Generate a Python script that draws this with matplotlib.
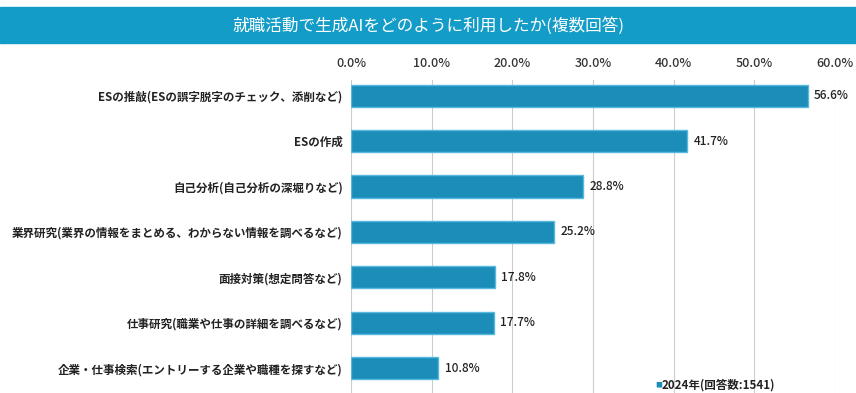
import numpy as np
import matplotlib
matplotlib.use('Agg')
from matplotlib import pyplot as plt
from matplotlib.patches import Rectangle

plt.rcParams['font.family'] = ['Noto Sans CJK JP', 'DejaVu Sans']

title = '就職活動で生成AIをどのように利用したか(複数回答)'
categories = [
    'ESの推敲(ESの誤字脱字のチェック、添削など)',
    'ESの作成',
    '自己分析(自己分析の深堀りなど)',
    '業界研究(業界の情報をまとめる、わからない情報を調べるなど)',
    '面接対策(想定問答など)',
    '仕事研究(職業や仕事の詳細を調べるなど)',
    '企業・仕事検索(エントリーする企業や職種を探すなど)',
]
values = [56.6, 41.7, 28.8, 25.2, 17.8, 17.7, 10.8]
ticks = [0, 10, 20, 30, 40, 50, 60]
legend_label = '2024年(回答数:1541)'

bar_color = '#1b8db8'
edge_color = '#58b9dc'
banner_color = '#139cc7'

fig = plt.figure(figsize=(8.56, 3.93), dpi=100)

# title banner across the top
fig.patches.append(Rectangle((0, 1 - 43 / 393), 1, 36 / 393, transform=fig.transFigure,
                             color=banner_color, zorder=0))
fig.text(0.5, 1 - 25.5 / 393, title, ha='center', va='center', color='white', fontsize=12)

ax = fig.add_axes([351 / 856, 0, (835 - 351) / 856, 1 - 80 / 393])
y = np.arange(len(categories))
ax.barh(y, values, height=0.49, color=bar_color, edgecolor=edge_color, linewidth=1.0, zorder=3)

for yi, v in zip(y, values):
    ax.text(v + 0.8, yi, f'{v:.1f}%', va='center', ha='left', fontsize=8.5, fontweight='medium',
            color='#222222')

ax.set_xlim(0, 60)
ax.set_ylim(6.55, -0.35)
ax.set_xticks(ticks)
ax.set_xticklabels([f'{t:.1f}%' for t in ticks], fontsize=9, fontweight='medium', color='#333333')
ax.xaxis.tick_top()
ax.tick_params(axis='x', length=0, pad=7)
ax.set_yticks(y)
ax.set_yticklabels(categories, fontsize=8.3, fontweight='bold', color='#222222')
ax.tick_params(axis='y', length=0, pad=6)
ax.grid(axis='x', color='#cccccc', linewidth=0.8, zorder=0)
for s in ax.spines.values():
    s.set_visible(False)

# legend at bottom right
fig.text(655 / 856, 1 - 385 / 393, '■', color=bar_color, fontsize=5, va='center', ha='left')
fig.text(662 / 856, 1 - 385 / 393, legend_label, color='#222222', fontsize=8.3,
         fontweight='bold', va='center', ha='left')

fig.savefig('out.png', dpi=100)
